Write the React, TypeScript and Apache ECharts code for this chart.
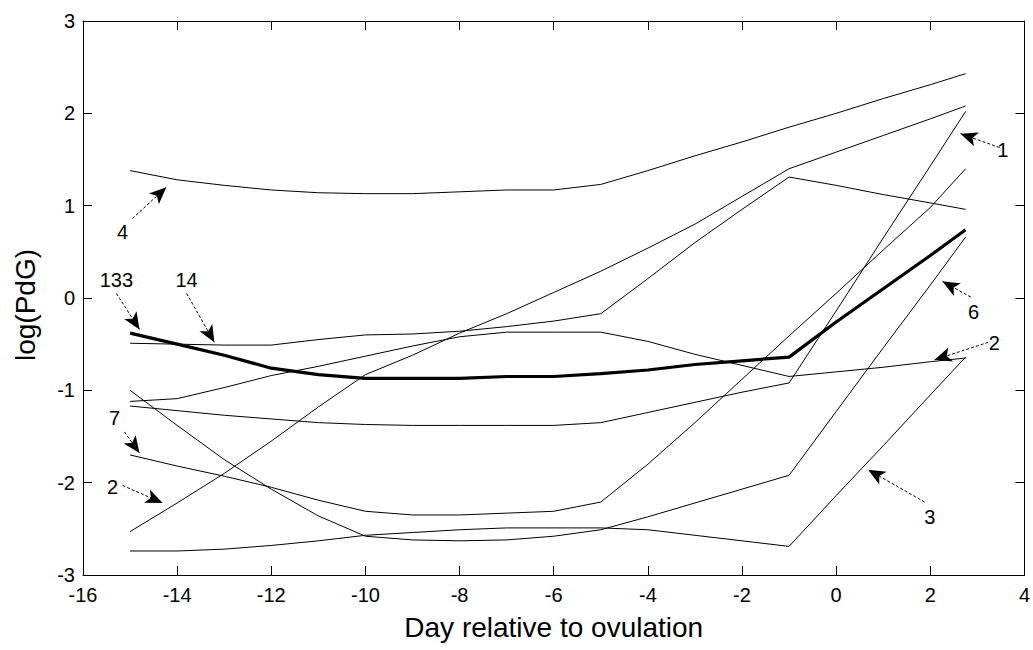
import React, { useEffect, useRef } from "react";
import * as echarts from "echarts";

// Day relative to ovulation (sample positions along each curve)
const days = [-15, -14, -13, -12, -11, -10, -9, -8, -7, -6, -5, -4, -3, -2, -1, 0, 1, 2, 2.75];

// log(PdG) values per subject curve
const subj4 = [1.38, 1.28, 1.22, 1.17, 1.14, 1.13, 1.13, 1.15, 1.17, 1.17, 1.23, 1.38, 1.54, 1.69, 1.85, 2.0, 2.16, 2.31, 2.43];
const subj2a = [-2.53, -2.22, -1.9, -1.55, -1.18, -0.83, -0.62, -0.38, -0.17, 0.06, 0.29, 0.54, 0.8, 1.1, 1.4, 1.58, 1.76, 1.94, 2.08];
const subj14 = [-0.49, -0.5, -0.51, -0.51, -0.45, -0.4, -0.39, -0.36, -0.31, -0.25, -0.17, 0.21, 0.6, 0.96, 1.31, 1.22, 1.12, 1.03, 0.96];
const subj2b = [-1.12, -1.09, -0.97, -0.84, -0.74, -0.63, -0.52, -0.42, -0.37, -0.37, -0.37, -0.47, -0.61, -0.73, -0.85, -0.8, -0.75, -0.69, -0.65];
const subj1 = [-1.17, -1.22, -1.27, -1.31, -1.35, -1.37, -1.38, -1.38, -1.38, -1.38, -1.35, -1.24, -1.13, -1.02, -0.92, -0.14, 0.65, 1.43, 2.02];
const subj6 = [-1.0, -1.38, -1.75, -2.07, -2.36, -2.58, -2.62, -2.63, -2.62, -2.58, -2.51, -2.37, -2.22, -2.07, -1.92, -1.23, -0.54, 0.14, 0.66];
const subj7 = [-1.7, -1.82, -1.93, -2.05, -2.19, -2.31, -2.35, -2.35, -2.33, -2.31, -2.21, -1.8, -1.35, -0.88, -0.41, 0.05, 0.52, 0.98, 1.4];
const subj3 = [-2.74, -2.74, -2.72, -2.68, -2.63, -2.57, -2.54, -2.51, -2.49, -2.49, -2.49, -2.51, -2.57, -2.63, -2.69, -2.14, -1.6, -1.05, -0.64];
// thick mean curve
const mean133 = [-0.38, -0.5, -0.62, -0.76, -0.83, -0.87, -0.87, -0.87, -0.85, -0.85, -0.82, -0.78, -0.72, -0.68, -0.64, -0.26, 0.1, 0.46, 0.74];

// Axis ticks
const xMin = -16, xMax = 4, xStep = 2;
const yMin = -3, yMax = 3, yStep = 1;

// Annotations (data coordinates)
const noteLabels = ["4", "133", "14", "7", "2", "1", "6", "2", "3"];
const noteX = [-15.16, -15.29, -13.8, -15.33, -15.37, 3.54, 2.92, 3.36, 1.99];
const noteY = [0.71, 0.2, 0.2, -1.3, -2.05, 1.6, -0.15, -0.49, -2.37];
const arrowFromX = [-14.95, -15.29, -13.8, -15.12, -15.16, 3.47, 2.86, 3.23, 1.88];
const arrowFromY = [0.86, 0.05, 0.05, -1.45, -2.03, 1.63, 0.01, -0.48, -2.21];
const arrowToX = [-14.23, -14.8, -13.21, -14.8, -14.31, 2.64, 2.26, 2.09, 0.68];
const arrowToY = [1.2, -0.34, -0.48, -1.68, -2.22, 1.78, 0.18, -0.67, -1.86];

const FONT = "'Liberation Sans', Arial, Helvetica, sans-serif";

const thinCurves = [subj4, subj2a, subj14, subj2b, subj1, subj6, subj7, subj3];

function pairs(ys: number[]) {
  return days.map((d, i) => [d, ys[i]]);
}

export default function App() {
  const ref = useRef<HTMLDivElement>(null);

  useEffect(() => {
    if (!ref.current) return;
    const chart = echarts.init(ref.current, undefined, { renderer: "svg" });

    const axisCommon = {
      axisLine: { show: true, onZero: false, lineStyle: { color: "#000", width: 1 } },
      axisTick: { show: true, inside: true, length: 9, lineStyle: { color: "#000", width: 1 } },
      splitLine: { show: false },
    };

    const series: any[] = thinCurves.map((ys) => ({
      type: "line",
      data: pairs(ys),
      symbol: "none",
      lineStyle: { color: "#000", width: 1 },
      z: 2,
    }));
    series.push({
      type: "line",
      data: pairs(mean133),
      symbol: "none",
      lineStyle: { color: "#000", width: 3.2 },
      z: 3,
    });
    series.push({
      type: "line",
      data: [],
      symbol: "none",
      markLine: {
        silent: true,
        symbol: ["none", "arrow"],
        symbolSize: [11, 17],
        label: { show: false },
        itemStyle: { color: "#000" },
        lineStyle: { color: "#000", width: 1, type: [3, 2] },
        data: noteLabels.map((_, i) => [
          { coord: [arrowFromX[i], arrowFromY[i]] },
          { coord: [arrowToX[i], arrowToY[i]] },
        ]),
      },
    });
    series.push({
      type: "scatter",
      symbol: "circle",
      symbolSize: 0,
      itemStyle: { color: "#000", opacity: 1 },
      silent: true,
      data: noteLabels.map((t, i) => ({ value: [noteX[i], noteY[i]], name: t })),
      label: {
        show: true,
        position: "inside",
        formatter: "{b}",
        color: "#000",
        opacity: 1,
        textBorderWidth: 0,
        fontSize: 20,
        fontFamily: FONT,
      },
      z: 4,
    });

    chart.setOption({
      animation: false,
      backgroundColor: "#fff",
      grid: { left: 83, right: 6, top: 21, bottom: 75 },
      xAxis: [
        {
          type: "value",
          min: xMin,
          max: xMax,
          interval: xStep,
          position: "bottom",
          ...axisCommon,
          axisLabel: { color: "#000", fontSize: 20, margin: 10, fontFamily: FONT },
          name: "Day relative to ovulation",
          nameLocation: "middle",
          nameGap: 38,
          nameTextStyle: { color: "#000", fontSize: 28, fontFamily: FONT },
        },
        {
          type: "value",
          min: xMin,
          max: xMax,
          interval: xStep,
          position: "top",
          ...axisCommon,
          axisLabel: { show: false },
        },
      ],
      yAxis: [
        {
          type: "value",
          min: yMin,
          max: yMax,
          interval: yStep,
          position: "left",
          ...axisCommon,
          axisLabel: { color: "#000", fontSize: 20, margin: 8, fontFamily: FONT },
          name: "log(PdG)",
          nameLocation: "middle",
          nameGap: 44,
          nameTextStyle: { color: "#000", fontSize: 28, fontFamily: FONT, padding: [0, 14, 0, 0] },
        },
        {
          type: "value",
          min: yMin,
          max: yMax,
          interval: yStep,
          position: "right",
          ...axisCommon,
          axisLabel: { show: false },
        },
      ],
      series,
    });

    return () => chart.dispose();
  }, []);

  return (
    <div
      ref={ref}
      style={{ position: "fixed", left: 0, top: 0, width: 1033, height: 650, background: "#fff" }}
    />
  );
}
